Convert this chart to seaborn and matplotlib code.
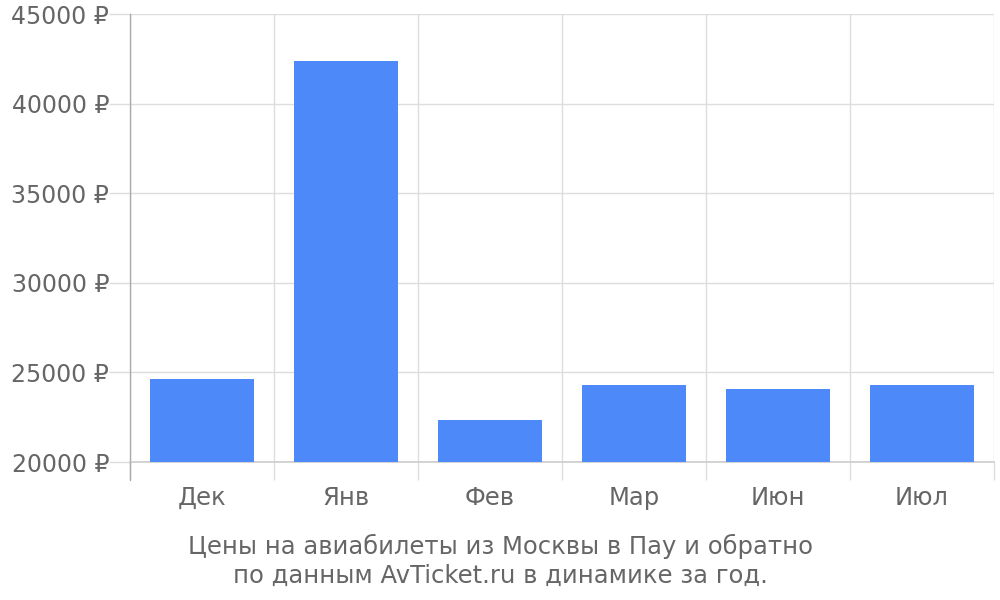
import matplotlib
matplotlib.use("Agg")
import matplotlib.pyplot as plt
import seaborn as sns
import pandas as pd
from matplotlib.ticker import FixedLocator, FuncFormatter

months = ["Дек", "Янв", "Фев", "Мар", "Июн", "Июл"]
prices = [24630, 42400, 22330, 24310, 24100, 24310]
y_ticks = [20000, 25000, 30000, 35000, 40000, 45000]
caption = "Цены на авиабилеты из Москвы в Пау и обратно\nпо данным AvTicket.ru в динамике за год."

sns.set_theme(style="white")
plt.rcParams["font.family"] = ["DejaVu Sans"]

text_color = "#666666"
grid_color = "#dddddd"

df = pd.DataFrame({"month": months, "price": prices})

fig = plt.figure(figsize=(10, 6), dpi=100)
ax = fig.add_axes([0.13, 0.23, 0.864, 448 / 600])

sns.barplot(data=df, x="month", y="price", color="#4d89f9", width=0.72,
            saturation=1, ax=ax, zorder=3, linewidth=0)

ax.set_ylim(y_ticks[0], y_ticks[-1])
ax.set_xlim(-0.5, len(months) - 0.5)
ax.yaxis.set_major_locator(FixedLocator(y_ticks))
ax.yaxis.set_major_formatter(FuncFormatter(lambda v, p: f"{int(v)} ₽"))

ax.xaxis.set_minor_locator(FixedLocator([i - 0.5 for i in range(len(months) + 1)]))
ax.grid(True, axis="y", which="major", color=grid_color, linewidth=1, zorder=0)
ax.grid(True, axis="x", which="minor", color=grid_color, linewidth=1, zorder=0)
ax.grid(False, axis="x", which="major")

ax.tick_params(axis="x", which="major", length=0, pad=17, labelsize=17.5, labelcolor=text_color)
ax.tick_params(axis="x", which="minor", length=13, width=1, color=grid_color, bottom=True)
ax.tick_params(axis="y", which="major", length=15, width=1, color=grid_color, pad=0,
               labelsize=17, labelcolor=text_color, left=True)

for s in ["top", "right"]:
    ax.spines[s].set_visible(False)
ax.spines["left"].set_color("#aaaaaa")
ax.spines["left"].set_linewidth(1)
ax.spines["bottom"].set_color("#cccccc")
ax.spines["bottom"].set_linewidth(1.2)
ax.axvline(-0.5, ymin=-18 / 448, ymax=0, color="#aaaaaa", linewidth=1, clip_on=False, zorder=5)

ax.set_xlabel("")
ax.set_ylabel("")

fig.text(0.5, 1 - 561 / 600, caption, ha="center", va="center", fontsize=17.5,
         color=text_color, linespacing=1.27)

fig.savefig("out.png", dpi=100, facecolor="white")
